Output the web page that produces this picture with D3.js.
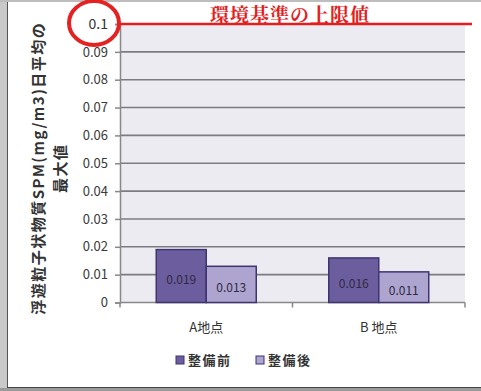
<!DOCTYPE html>
<html>
<head>
<meta charset="utf-8">
<script src="https://cdn.jsdelivr.net/npm/d3@7"></script>
<style>
  html, body { margin: 0; padding: 0; background: #ffffff; }
  svg { display: block; }
</style>
</head>
<body>
<svg id="chart" width="481" height="391"></svg>
<script>
// Data
const categories = ["A地点", "B 地点"];
const seriesNames = ["整備前", "整備後"];
const beforeValues = [0.019, 0.016];
const afterValues = [0.013, 0.011];
const yTicks = [0, 0.01, 0.02, 0.03, 0.04, 0.05, 0.06, 0.07, 0.08, 0.09, 0.1];
const limitValue = 0.1;
const limitLabel = "環境基準の上限値";
const yTitleLines = ["浮遊粒子状物質SPM(mg/m3)日平均の", "最大値"];

const svg = d3.select("#chart");
const W = 481, H = 391;
const sans = "'Noto Sans CJK JP', 'Noto Sans', sans-serif";

// Page frame
svg.append("rect").attr("x", 0).attr("y", 0).attr("width", W).attr("height", H).attr("fill", "#ffffff");
svg.append("rect").attr("x", 0).attr("y", 0).attr("width", 7).attr("height", H).attr("fill", "#c9c9c9");
svg.append("rect").attr("x", 0).attr("y", 0).attr("width", W).attr("height", 2).attr("fill", "#bdbdbd");
svg.append("rect").attr("x", 0).attr("y", 388).attr("width", W).attr("height", 3).attr("fill", "#9a9a9a");
svg.append("line").attr("x1", 7.5).attr("x2", 7.5).attr("y1", 2).attr("y2", 388)
  .attr("stroke", "#555").attr("stroke-width", 1);
svg.append("line").attr("x1", 7).attr("x2", W).attr("y1", 387.5).attr("y2", 387.5)
  .attr("stroke", "#444").attr("stroke-width", 1);

// Plot area
const plot = { left: 120, right: 465, top: 24, bottom: 302.5 };

const x0 = d3.scaleBand().domain(categories).range([plot.left, plot.right]).paddingInner(0).paddingOuter(0);
const x1 = d3.scaleBand().domain(seriesNames).range([0, 100]).padding(0);
const y = d3.scaleLinear().domain([0, 0.1]).range([plot.bottom, plot.top]);

svg.append("rect")
  .attr("x", plot.left).attr("y", plot.top)
  .attr("width", plot.right - plot.left).attr("height", plot.bottom - plot.top)
  .attr("fill", "#ecebf2");

// Gridlines
svg.append("g").selectAll("line")
  .data(yTicks.filter(t => t > 0 && t < limitValue))
  .join("line")
  .attr("x1", plot.left).attr("x2", plot.right)
  .attr("y1", d => y(d)).attr("y2", d => y(d))
  .attr("stroke", "#7c7c80").attr("stroke-width", 1.6);

// Y axis
const yAxis = d3.axisLeft(y).tickValues(yTicks).tickSize(5).tickPadding(7)
  .tickFormat(d => d === 0 ? "0" : d3.format(".2~f")(d));
const gy = svg.append("g").attr("transform", `translate(${plot.left},0)`).call(yAxis);
gy.select(".domain").attr("stroke", "#888").attr("stroke-width", 1.5);
gy.selectAll(".tick line").attr("stroke", "#888").attr("stroke-width", 1.5);
gy.selectAll(".tick text")
  .attr("font-family", sans).attr("font-size", 13).attr("fill", "#3a3a3a");
gy.selectAll(".tick text").filter(d => d === limitValue)
  .attr("font-size", 14).attr("fill", "#333");

// X axis
const gx = svg.append("g").attr("transform", `translate(0,${plot.bottom})`);
gx.append("line").attr("x1", plot.left).attr("x2", plot.right)
  .attr("stroke", "#888").attr("stroke-width", 1.5);
const bounds = [plot.left, ...categories.map(c => x0(c) + x0.bandwidth())];
gx.selectAll("line.tk").data(bounds).join("line").attr("class", "tk")
  .attr("x1", d => d).attr("x2", d => d).attr("y1", 0).attr("y2", 5)
  .attr("stroke", "#888").attr("stroke-width", 1.5);
gx.selectAll("text").data(categories).join("text")
  .attr("x", d => x0(d) + x0.bandwidth() / 2)
  .attr("y", 29)
  .attr("text-anchor", "middle")
  .attr("font-family", sans).attr("font-size", 13).attr("fill", "#333")
  .text(d => d);

// Bars
const colors = { "整備前": "#6c5d9f", "整備後": "#ada4cf" };
const rows = categories.map((c, i) => ({ cat: c, vals: [
  { s: seriesNames[0], v: beforeValues[i] },
  { s: seriesNames[1], v: afterValues[i] }
]}));
const groups = svg.append("g").selectAll("g").data(rows).join("g")
  .attr("transform", d => `translate(${x0(d.cat) + x0.bandwidth() / 2 - 50},0)`);
groups.selectAll("rect").data(d => d.vals).join("rect")
  .attr("x", d => x1(d.s))
  .attr("y", d => y(d.v))
  .attr("width", x1.bandwidth())
  .attr("height", d => y(0) - y(d.v))
  .attr("fill", d => colors[d.s])
  .attr("stroke", "#3e356f").attr("stroke-width", 1.5);
groups.selectAll("text").data(d => d.vals).join("text")
  .attr("x", d => x1(d.s) + x1.bandwidth() / 2)
  .attr("y", d => (y(d.v) + y(0)) / 2 + 8)
  .attr("text-anchor", "middle")
  .attr("font-family", sans).attr("font-size", 12).attr("fill", "#2e2a40")
  .text(d => d3.format(".3f")(d.v));

// Limit line and label
svg.append("line")
  .attr("x1", plot.left).attr("x2", 472)
  .attr("y1", y(limitValue)).attr("y2", y(limitValue))
  .attr("stroke", "#e41e1e").attr("stroke-width", 2.5);
svg.append("text")
  .attr("x", 210).attr("y", y(limitValue) - 2)
  .attr("font-family", "'Noto Serif CJK JP', 'Noto Sans CJK JP', serif")
  .attr("font-size", 19).attr("font-weight", "bold").attr("letter-spacing", 1)
  .attr("fill", "#e41e1e")
  .text(limitLabel);
svg.append("ellipse")
  .attr("cx", 94).attr("cy", y(limitValue) - 1)
  .attr("rx", 25).attr("ry", 22)
  .attr("fill", "none").attr("stroke", "#e42222").attr("stroke-width", 4);

// Y axis title
const midY = (plot.top + plot.bottom) / 2 + 5;
yTitleLines.forEach((t, i) => {
  svg.append("text")
    .attr("transform", `translate(${44 + i * 22},${midY}) rotate(-90)`)
    .attr("text-anchor", "middle")
    .attr("font-family", sans).attr("font-weight", "bold")
    .attr("font-size", 15).attr("letter-spacing", 1.5)
    .attr("fill", "#333")
    .text(t);
});

// Legend
const legend = svg.append("g").attr("transform", "translate(176,360)");
const legendX = [0, 80];
seriesNames.forEach((s, i) => {
  const g = legend.append("g").attr("transform", `translate(${legendX[i]},0)`);
  g.append("rect").attr("x", 0).attr("y", -4).attr("width", 8).attr("height", 8)
    .attr("fill", colors[s]).attr("stroke", "#3e356f").attr("stroke-width", 1);
  g.append("text").attr("x", 12).attr("y", 5)
    .attr("font-family", sans).attr("font-weight", "bold").attr("font-size", 13)
    .attr("letter-spacing", 1.5).attr("fill", "#333")
    .text(s);
});
</script>
</body>
</html>
